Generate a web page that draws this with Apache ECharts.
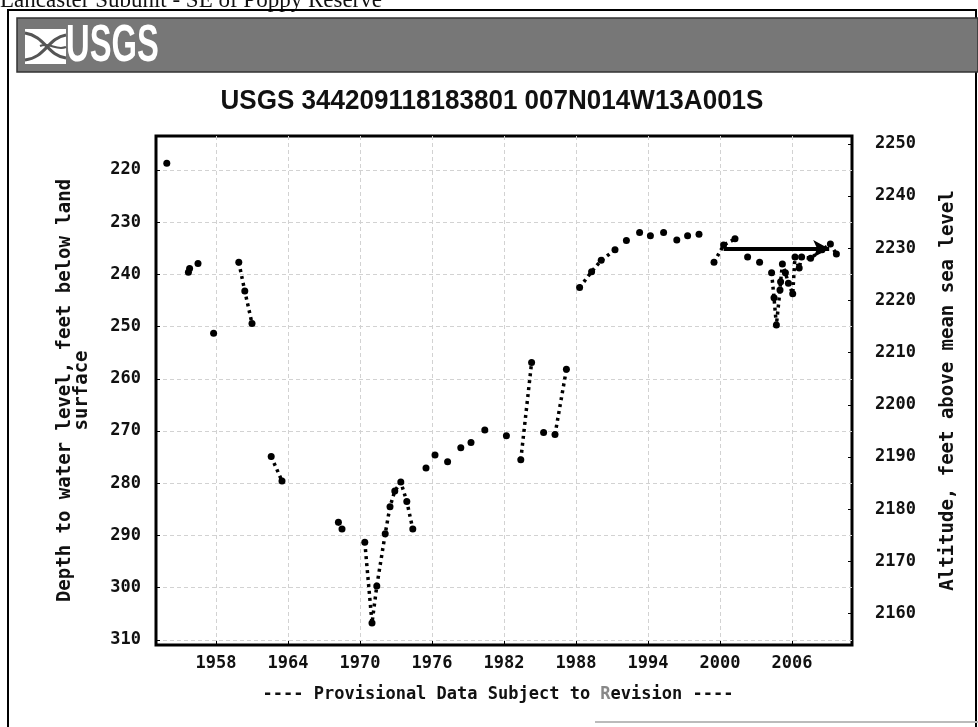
<!DOCTYPE html>
<html><head><meta charset="utf-8">
<script src="https://cdn.jsdelivr.net/npm/echarts@6/dist/echarts.min.js"></script>
<style>html,body{margin:0;padding:0;background:#fff}#c{width:978px;height:727px}</style>
</head><body><div id="c"></div>
<script>
// ---- data ----
const headerText = 'Lancaster Subunit - SE of Poppy Reserve';
const titleText = 'USGS 344209118183801 007N014W13A001S';
const yAxisName = 'Depth to water level, feet below land\nsurface';
const y2AxisName = 'Altitude, feet above mean sea level';
const yearTicks = [1958, 1964, 1970, 1976, 1982, 1988, 1994, 2000, 2006];
const depthTicks = [220, 230, 240, 250, 260, 270, 280, 290, 300, 310];
const altTicks = [2160, 2170, 2180, 2190, 2200, 2210, 2220, 2230, 2240, 2250];
const landSurface = 2465;
// null separates groups of measurements that are not connected
const measYears = [
  1953.9, null,
  1955.7, 1955.8, null,
  1956.5, null,
  1957.8, null,
  1959.9, 1960.4, 1961.0, null,
  1962.6, 1963.5, null,
  1968.2, 1968.5, null,
  1970.4, 1971.0, 1971.4, 1972.1, 1972.5, 1972.9, 1973.4, 1973.9, 1974.4, null,
  1975.5, null, 1976.25, null, 1977.3, null, 1978.4, null, 1979.25, null, 1980.4, null, 1982.2, null,
  1983.4, 1984.3, null,
  1985.3, null,
  1986.25, 1987.2, null,
  1988.3, 1989.3, 1990.1, 1991.25, null,
  1992.2, null, 1993.3, null, 1994.2, null, 1995.3, null, 1996.4, null, 1997.3, null, 1998.25, null,
  1999.5, 2000.3, 2001.25, null,
  2002.3, null, 2003.3, null,
  2004.3, 2004.5, 2004.7, 2005.0, 2005.05, 2005.2, 2005.45, 2005.7, 2006.06, 2006.25, 2006.6, 2006.8, 2007.55, 2008.5, 2009.2, 2009.7
];
const measDepth = [
  218.7, null,
  239.6, 238.9, null,
  237.9, null,
  251.3, null,
  237.7, 243.2, 249.4, null,
  274.9, 279.6, null,
  287.5, 288.8, null,
  291.3, 306.8, 299.7, 289.7, 284.5, 281.5, 279.8, 283.5, 288.8, null,
  277.1, null, 274.6, null, 275.9, null, 273.2, null, 272.2, null, 269.8, null, 270.9, null,
  275.5, 256.9, null,
  270.3, null,
  270.7, 258.2, null,
  242.5, 239.5, 237.3, 235.3, null,
  233.5, null, 232.0, null, 232.6, null, 232.0, null, 233.4, null, 232.6, null, 232.3, null,
  237.7, 234.4, 233.2, null,
  236.7, null, 237.7, null,
  239.7, 244.5, 249.7, 243.0, 241.4, 238.0, 239.7, 241.7, 243.7, 236.7, 238.8, 236.7, 236.9, 235.3, 234.2, 236.1
];
const arrowYears = [2000.3, 2009.1];
const arrowDepth = [235.1, 235.1];

// ---- chart ----
const depthTop = 213.5, depthBottom = 311;
const mono = 'DejaVu Sans Mono';
const measData = measYears.map((x, i) => (x === null ? ['-', '-'] : [x, measDepth[i]]));

const chart = echarts.init(document.getElementById('c'), null, {renderer: 'canvas'});
const tickLabel = {fontFamily: mono, fontWeight: 'bold', fontSize: 17, color: '#111'};
chart.setOption({
  backgroundColor: '#fff',
  animation: false,
  grid: {left: 156, right: 126, top: 136, bottom: 82, show: true, borderColor: '#000', borderWidth: 3},
  xAxis: {
    type: 'value', min: 1953, max: 2011,
    axisLine: {show: false},
    axisTick: {show: true, inside: true, length: 4, customValues: yearTicks, lineStyle: {color: '#000'}},
    axisLabel: Object.assign({customValues: yearTicks, margin: 10, formatter: v => String(v)}, tickLabel),
    splitLine: {show: true, lineStyle: {color: '#d2d2d2', type: [4, 3], width: 1}}
  },
  yAxis: [{
    type: 'value', inverse: true, min: depthTop, max: depthBottom, position: 'left',
    name: yAxisName, nameLocation: 'middle', nameRotate: 90, nameGap: 65,
    nameTextStyle: {fontFamily: mono, fontWeight: 'bold', fontSize: 19, color: '#111', lineHeight: 17},
    axisLine: {show: false},
    axisTick: {show: true, inside: true, length: 4, customValues: depthTicks, lineStyle: {color: '#000'}},
    axisLabel: Object.assign({customValues: depthTicks, margin: 15, formatter: v => String(v)}, tickLabel),
    splitLine: {show: true, lineStyle: {color: '#d2d2d2', type: [4, 3], width: 1}}
  }, {
    type: 'value', min: landSurface - depthBottom, max: landSurface - depthTop, position: 'right',
    name: y2AxisName, nameLocation: 'middle', nameRotate: 90, nameGap: 87,
    nameTextStyle: {fontFamily: mono, fontWeight: 'bold', fontSize: 19, color: '#111'},
    axisLine: {show: false},
    axisTick: {show: true, inside: true, length: 4, customValues: altTicks, lineStyle: {color: '#000'}},
    axisLabel: Object.assign({customValues: altTicks, margin: 23, formatter: v => String(v)}, tickLabel),
    splitLine: {show: false}
  }],
  series: [{
    type: 'line', yAxisIndex: 0, data: measData, connectNulls: false,
    symbol: 'circle', symbolSize: 7, showSymbol: true,
    itemStyle: {color: '#000'},
    lineStyle: {color: '#000', width: 3.5, type: [3, 4]},
    markLine: {
      silent: true, symbol: ['none', 'arrow'], symbolSize: [13, 16],
      label: {show: false},
      lineStyle: {color: '#000', width: 4, type: 'solid'},
      data: [[{coord: [arrowYears[0], arrowDepth[0]]}, {coord: [arrowYears[1], arrowDepth[1]]}]]
    }
  }],
  graphic: [
    {type: 'text', x: 0, y: 12, style: {text: headerText, font: '23px "Liberation Serif"', fill: '#111', textAlign: 'left', textVerticalAlign: 'bottom', align: 'left', verticalAlign: 'bottom'}},
    {type: 'rect', shape: {x: 8, y: 10, width: 968, height: 740}, style: {fill: 'none', stroke: '#000', lineWidth: 2}},
    {type: 'rect', shape: {x: 17, y: 18, width: 961, height: 54}, style: {fill: '#777', stroke: '#333', lineWidth: 1.5}},
    {type: 'polygon', shape: {points: [[25, 29], [66, 29], [66, 64], [25, 64]]}, style: {fill: '#fff'}},
    {type: 'bezierCurve', shape: {x1: 25, y1: 33, x2: 66, y2: 58, cpx1: 45, cpy1: 36, cpx2: 48, cpy2: 56}, style: {stroke: '#555', lineWidth: 3, fill: 'none'}},
    {type: 'bezierCurve', shape: {x1: 25, y1: 60, x2: 66, y2: 35, cpx1: 45, cpy1: 58, cpx2: 48, cpy2: 38}, style: {stroke: '#555', lineWidth: 3, fill: 'none'}},
    {type: 'bezierCurve', shape: {x1: 40, y1: 46, x2: 66, y2: 47, cpx1: 50, cpy1: 42, cpx2: 56, cpy2: 51}, style: {stroke: '#555', lineWidth: 2, fill: 'none'}},
    {type: 'text', x: 66, y: 47, scaleX: 0.63, style: {text: 'USGS', font: 'bold 52px "Liberation Sans"', fill: '#fff', textAlign: 'left', textVerticalAlign: 'middle', align: 'left', verticalAlign: 'middle'}},
    {type: 'text', x: 492, y: 101, scaleX: 0.93, style: {text: titleText, font: 'bold 28px "Liberation Sans"', fill: '#111', textAlign: 'center', textVerticalAlign: 'middle', align: 'center', verticalAlign: 'middle'}},
    {type: 'text', x: 498, y: 695, style: {
      text: '{a|---- Provisional Data Subject to }{r|R}{a|evision ----}',
      textAlign: 'center', textVerticalAlign: 'middle', align: 'center', verticalAlign: 'middle',
      rich: {a: {font: 'bold 17px "DejaVu Sans Mono"', fill: '#111'}, r: {font: 'bold 17px "DejaVu Sans Mono"', fill: '#888'}}
    }},
    {type: 'line', shape: {x1: 595, y1: 722, x2: 978, y2: 722}, style: {stroke: '#bbb', lineWidth: 2}}
  ]
});
</script></body></html>
